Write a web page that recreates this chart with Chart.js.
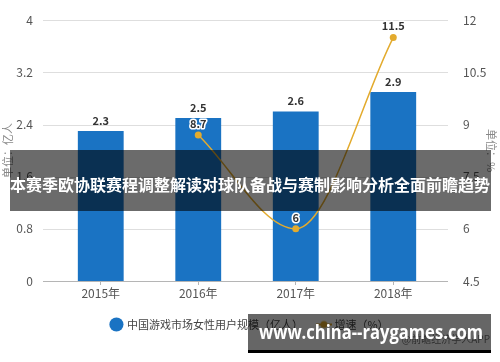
<!DOCTYPE html>
<html>
<head>
<meta charset="utf-8">
<script src="https://cdn.jsdelivr.net/npm/chart.js@4"></script>
<style>
  html, body { margin:0; padding:0; background:#fff; }
  #wrap { width:500px; height:362px; position:relative; }
</style>
</head>
<body>
<div id="wrap"><canvas id="c" width="500" height="362"></canvas></div>
<script>
// data
const years = ['2015年', '2016年', '2017年', '2018年'];
const userScale = [2.3, 2.5, 2.6, 2.9];        // 中国游戏市场女性用户规模（亿人）
const growthRate = [null, 8.7, 6, 11.5];       // 增速（%）
const leftTicks = [0, 0.8, 1.6, 2.4, 3.2, 4];
const rightTicks = [4.5, 6, 7.5, 9, 10.5, 12];
const bannerTitle = '本赛季欧协联赛程调整解读对球队备战与赛制影响分析全面前瞻趋势';
const siteMark = 'www.china--raygames.com';

const FONT = '"Noto Sans CJK SC", "Noto Sans", sans-serif';
const BLUE = '#1a73c3';
const GOLD = '#e3ab2e';

// legend icon for the line series: short line with a dot
function lineIcon(){
  const c = document.createElement('canvas');
  c.width = 16; c.height = 10;
  const g = c.getContext('2d');
  g.strokeStyle = GOLD; g.lineWidth = 2;
  g.beginPath(); g.moveTo(0,5); g.lineTo(16,5); g.stroke();
  g.fillStyle = GOLD;
  g.beginPath(); g.arc(8,5,3.5,0,Math.PI*2); g.fill();
  return c;
}
const legendLineIcon = lineIcon();

const extras = {
  id:'extras',
  beforeDatasetsDraw(chart){
    const {ctx, scales:{y}} = chart;
    ctx.save();
    ctx.lineWidth = 1;
    leftTicks.forEach(v=>{
      const py = Math.round(y.getPixelForValue(v)) + 0.5;
      ctx.strokeStyle = v === 0 ? '#b5b5b5' : '#dedede';
      ctx.beginPath(); ctx.moveTo(43, py); ctx.lineTo(448, py); ctx.stroke();
    });
    ctx.restore();
  },
  afterDatasetsDraw(chart){
    const {ctx} = chart;
    ctx.save();
    ctx.textAlign = 'center';
    ctx.textBaseline = 'bottom';
    ctx.font = 'bold 11px ' + FONT;
    chart.getDatasetMeta(0).data.forEach((b,i)=>{
      ctx.fillStyle = '#333';
      ctx.fillText(String(userScale[i]), b.x, b.y - 5);
    });
    chart.getDatasetMeta(1).data.forEach((p,i)=>{
      if (growthRate[i] == null) return;
      ctx.lineWidth = 3; ctx.strokeStyle = '#fff'; ctx.lineJoin = 'round';
      ctx.strokeText(String(growthRate[i]), p.x, p.y - 6);
      ctx.fillStyle = '#333';
      ctx.fillText(String(growthRate[i]), p.x, p.y - 6);
    });
    ctx.restore();
  },
  afterDraw(chart){
    const {ctx} = chart;
    ctx.save();
    // top overlay banner
    ctx.fillStyle = 'rgba(0,0,0,0.58)';
    ctx.fillRect(10, 150, 481, 61);
    ctx.fillStyle = '#fff';
    ctx.font = 'bold 16px ' + FONT;
    ctx.textAlign = 'center';
    ctx.textBaseline = 'middle';
    ctx.fillText(bannerTitle, 250, 185, 480);
    // source note under bottom banner
    ctx.fillStyle = '#777';
    ctx.font = '10px ' + FONT;
    ctx.textAlign = 'right';
    ctx.fillText('@前瞻经济学人APP', 490, 339);
    // bottom banner
    ctx.fillStyle = 'rgba(0,0,0,0.6)';
    ctx.fillRect(248, 314, 243, 36);
    ctx.fillStyle = '#000';
    ctx.fillRect(248, 350, 243, 3);
    ctx.fillStyle = '#fff';
    ctx.font = 'bold 20px "Open Sans", sans-serif';
    const w = ctx.measureText(siteMark).width;
    ctx.save();
    ctx.translate(259, 333);
    ctx.scale(224 / w, 1);
    ctx.textAlign = 'left';
    ctx.fillText(siteMark, 0, 0);
    ctx.restore();
    ctx.restore();
  }
};

const tickFmt = v => String(v);

new Chart(document.getElementById('c'), {
  data:{
    labels: years,
    datasets:[
      { type:'bar', label:'中国游戏市场女性用户规模（亿人）', data:userScale, yAxisID:'y',
        backgroundColor:BLUE, barPercentage:0.47, categoryPercentage:1, order:2 },
      { type:'line', label:'增速（%）', data:growthRate, yAxisID:'y1',
        borderColor:GOLD, backgroundColor:GOLD, borderWidth:1.5, pointRadius:3.5,
        pointBackgroundColor:GOLD, pointBorderWidth:0, cubicInterpolationMode:'monotone',
        spanGaps:true, order:1 }
    ]
  },
  options:{
    responsive:false, animation:false,
    layout:{ padding:{ top:20, bottom:22, left:0, right:0 } },
    plugins:{
      legend:{
        position:'bottom',
        labels:{ usePointStyle:true, boxWidth:10, boxHeight:10, padding:16,
          font:{ size:11, family:FONT }, color:'#444',
          generateLabels(chart){
            return chart.data.datasets.map((ds,i)=>({
              text: ds.label,
              fillStyle: i === 0 ? BLUE : GOLD,
              strokeStyle: i === 0 ? BLUE : GOLD,
              lineWidth: 0,
              pointStyle: i === 0 ? 'circle' : legendLineIcon,
              fontColor: '#444',
              hidden: false,
              datasetIndex: i
            }));
          }
        }
      },
      tooltip:{ enabled:false }
    },
    scales:{
      x:{
        afterFit(s){ s.height = 22; },
        grid:{ display:true, drawOnChartArea:false, tickLength:4, color:'#b5b5b5', offset:false },
        border:{ display:false },
        ticks:{ padding:1, font:{ size:12, family:FONT }, color:'#555' }
      },
      y:{
        position:'left', min:0, max:4,
        afterFit(s){ s.width = 52; },
        afterBuildTicks(s){ s.ticks = leftTicks.map(v=>({value:v})); },
        grid:{ display:false }, border:{ display:false },
        ticks:{ padding:11, font:{ size:12, family:FONT }, color:'#555', callback:tickFmt },
        title:{ display:true, text:'单位：亿人', font:{ size:11, family:FONT }, color:'#888', padding:{ top:1, bottom:0 } }
      },
      y1:{
        position:'right', min:4.5, max:12,
        afterFit(s){ s.width = 58; },
        afterBuildTicks(s){ s.ticks = rightTicks.map(v=>({value:v})); },
        grid:{ display:false }, border:{ display:false },
        ticks:{ padding:13, font:{ size:12, family:FONT }, color:'#555', callback:tickFmt },
        title:{ display:true, text:'单位：%', font:{ size:11, family:FONT }, color:'#888', padding:{ top:2, bottom:0 } }
      }
    }
  },
  plugins:[extras]
});
</script>
</body>
</html>
